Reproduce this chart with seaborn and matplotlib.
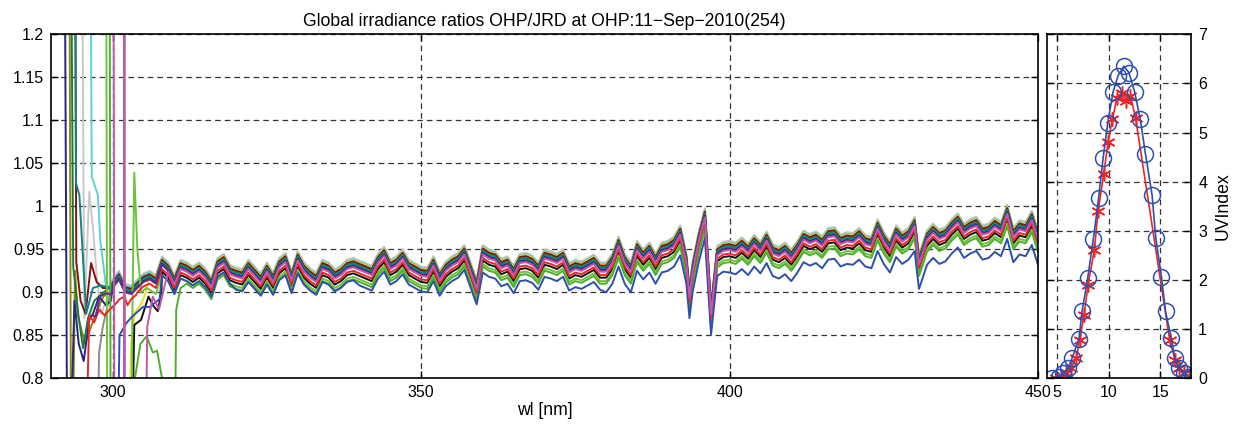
import numpy as np
import matplotlib
matplotlib.use("Agg")
import matplotlib.pyplot as plt
import seaborn as sns
import pandas as pd

# ---- spectral ratio: middle of the bundle ----
base_wl = [300, 301, 302, 303, 304, 305, 306, 307, 308, 309,
           310, 311, 312, 313, 314, 315, 316, 317, 318, 319,
           320, 321, 322, 323, 324, 325, 326, 327, 328, 329,
           330, 331, 332, 333, 334, 335, 336, 337, 338, 339,
           340, 341, 342, 343, 344, 345, 346, 347, 348, 349,
           350, 351, 352, 353, 354, 355, 356, 357, 358, 359,
           360, 361, 362, 363, 364, 365, 366, 367, 368, 369,
           370, 371, 372, 373, 374, 375, 376, 377, 378, 379,
           380, 381, 382, 383, 384, 385, 386, 387, 388, 389,
           390, 391, 392, 393, 393.5, 394, 395, 396, 397, 398, 399,
           400, 401, 402, 403, 404, 405, 406, 407, 408, 409,
           410, 411, 412, 413, 414, 415, 416, 417, 418, 419,
           420, 421, 422, 423, 424, 425, 426, 427, 428, 429,
           430, 430.7, 431, 432, 433, 434, 435, 436, 437, 438, 439,
           440, 441, 442, 443, 444, 445, 446, 447, 448, 449, 450]
base_ratio = [0.905, 0.915, 0.900, 0.898, 0.905, 0.912, 0.915, 0.910, 0.932, 0.925,
              0.910, 0.928, 0.925, 0.920, 0.925, 0.918, 0.907, 0.930, 0.935, 0.922,
              0.919, 0.917, 0.928, 0.920, 0.912, 0.925, 0.913, 0.930, 0.936, 0.915,
              0.938, 0.925, 0.918, 0.913, 0.928, 0.925, 0.917, 0.921, 0.928, 0.930,
              0.927, 0.924, 0.921, 0.935, 0.943, 0.928, 0.932, 0.940, 0.928, 0.924,
              0.920, 0.919, 0.932, 0.915, 0.926, 0.932, 0.936, 0.945, 0.925, 0.905,
              0.945, 0.940, 0.938, 0.929, 0.932, 0.921, 0.935, 0.936, 0.933, 0.925,
              0.940, 0.938, 0.935, 0.940, 0.924, 0.928, 0.926, 0.930, 0.934, 0.925,
              0.925, 0.935, 0.955, 0.935, 0.925, 0.950, 0.940, 0.948, 0.935, 0.948,
              0.950, 0.955, 0.968, 0.935, 0.895, 0.925, 0.960, 0.988, 0.876, 0.944, 0.949,
              0.950, 0.948, 0.954, 0.947, 0.957, 0.949, 0.961, 0.946, 0.943, 0.948,
              0.940, 0.950, 0.962, 0.958, 0.961, 0.955, 0.965, 0.966, 0.957, 0.960,
              0.959, 0.965, 0.957, 0.955, 0.975, 0.960, 0.950, 0.968, 0.960, 0.965,
              0.978, 0.934, 0.940, 0.962, 0.970, 0.963, 0.966, 0.975, 0.982, 0.970, 0.975,
              0.978, 0.968, 0.970, 0.977, 0.972, 0.992, 0.965, 0.974, 0.972, 0.985, 0.962]

# drawing order (last one on top)
scans = ["lgrey", "dgrey", "cyan", "yellow", "olive", "dred", "dgreen", "teal",
         "navy", "black", "greenA", "greenB", "blue", "red", "purple", "magenta"]
scan_colors = {"lgrey": "#c8c8c8", "dgrey": "#8c8c8c", "cyan": "#5fd0d8",
               "yellow": "#e8e020", "olive": "#8a8a10", "dred": "#861010",
               "dgreen": "#1f7a3a", "teal": "#108585", "navy": "#26267e",
               "black": "#111111", "greenA": "#6cc23a", "greenB": "#4fae2c",
               "blue": "#2d4fae", "red": "#f02424", "purple": "#6a2a8a",
               "magenta": "#c058ac"}
scan_offset = {"lgrey": 0.010, "dgrey": 0.008, "cyan": 0.008, "yellow": 0.007,
               "olive": 0.005, "dred": 0.006, "dgreen": 0.004, "teal": 0.003,
               "navy": 0.001, "black": -0.008, "greenA": -0.012, "greenB": -0.015,
               "blue": 0.0, "red": -0.005, "purple": 0.0, "magenta": -0.001}
# the blue scan drifts lower toward long wavelengths
blue_band_start = [300, 320, 340, 360, 380, 400, 430]
blue_band_offset = [-0.012, -0.016, -0.019, -0.022, -0.025, -0.027, -0.030]

# noisy short-wavelength starts (values beyond 0.8..1.2 run off the axes)
head_wl = {
    "navy": [292.1, 292.7, 293.8, 294.5, 295.3, 296.2, 296.8, 297.8, 298.9, 299.7],
    "olive": [292.9, 293.3, 293.9, 294.3, 295.5, 296.5, 297.5, 298.5, 299.5],
    "dgreen": [293.1, 293.6, 294.5, 295.2, 296.0, 297.0, 298.5, 299.5],
    "dred": [293.8, 294.1, 294.8, 295.6, 296.5, 297.4, 298.4, 299.5],
    "teal": [293.9, 294.05, 294.6, 295.7, 296.8, 298.1, 299.2],
    "lgrey": [294.9, 295.4, 296.2, 296.8, 297.4, 298.1, 299.0, 299.7],
    "cyan": [296.3, 296.6, 297.6, 298.0, 298.9, 299.6],
    "dgrey": [297.2, 297.8, 298.4, 299.5],
    "purple": [296.5, 297.3, 297.9, 299.0, 299.8],
    "red": [295.3, 296.2, 297.0, 297.8, 298.7, 299.5, 300.3, 301.1, 301.9, 302.4, 303.0, 303.8],
    "greenA": [298.9, 299.15, 302.9, 303.2, 303.5, 304.0, 304.6, 305.5],
    "greenB": [299.45, 299.7, 302.8, 303.6, 304.5, 305.5, 306.5, 307.2, 308.0, 308.3, 309.9, 310.3, 311.0],
    "magenta": [300.1, 300.3, 301.8, 301.9, 302.0, 305.2, 305.6, 306.5, 307.5, 308.5],
    "yellow": [302.2, 303.0, 303.6, 304.5, 305.4],
    "black": [302.8, 303.5, 304.6, 305.8, 306.5, 307.3, 307.9],
    "blue": [300.6, 301.1, 302.2, 303.2, 304.9, 306.0, 307.6],
}
head_val = {
    "navy": [1.5, 0.6, 0.89, 0.84, 0.82, 0.868, 0.875, 0.895, 0.885, 0.89],
    "olive": [1.5, 0.6, 0.925, 0.875, 0.84, 0.86, 0.88, 0.895, 0.90],
    "dgreen": [1.5, 0.93, 0.87, 0.835, 0.87, 0.89, 0.90, 0.905],
    "dred": [1.5, 0.935, 0.89, 0.875, 0.934, 0.912, 0.905, 0.905],
    "teal": [1.5, 1.027, 1.013, 0.875, 0.905, 0.908, 0.906],
    "lgrey": [1.5, 0.87, 1.017, 0.975, 0.92, 0.875, 0.89, 0.905],
    "cyan": [1.5, 1.035, 1.013, 0.96, 0.908, 0.905],
    "dgrey": [0.6, 0.83, 0.86, 0.895],
    "purple": [0.873, 0.872, 0.895, 0.899, 0.897],
    "red": [0.6, 0.873, 0.865, 0.88, 0.873, 0.88, 0.885, 0.892, 0.895, 0.885, 0.892, 0.897],
    "greenA": [1.5, 0.6, 0.6, 0.88, 1.039, 0.95, 0.90, 0.905],
    "greenB": [1.5, 0.6, 0.6, 0.8, 0.84, 0.849, 0.83, 0.832, 0.80, 0.6, 0.6, 0.88, 0.905],
    "magenta": [1.5, 0.6, 0.6, 1.5, 0.6, 0.6, 0.86, 0.895, 0.88, 0.91],
    "yellow": [0.6, 0.84, 0.877, 0.885, 0.90],
    "black": [0.6, 0.862, 0.868, 0.895, 0.885, 0.878, 0.90],
    "blue": [0.6, 0.85, 0.864, 0.872, 0.883, 0.883, 0.892],
}

# ---- UV index through the day ----
uv_hour_meas = [4.45, 5.2, 5.55, 6.05, 6.45, 7.1, 7.4, 7.95, 8.5, 9.0, 9.45, 9.9,
                10.4, 10.9, 11.45, 11.95, 12.5, 13.05, 13.55, 14.2, 14.55, 15.1,
                15.5, 16.05, 16.4, 16.8, 17.25, 17.75, 18.05]
uv_meas = [0.0, 0.03, 0.1, 0.2, 0.42, 0.8, 1.36, 2.04, 2.84, 3.66, 4.49, 5.2,
           5.82, 6.16, 6.35, 6.22, 5.83, 5.27, 4.57, 3.72, 2.86, 2.07,
           1.36, 0.82, 0.41, 0.2, 0.1, 0.03, 0.0]
uv_hour_ref = [4.9, 5.35, 5.85, 6.3, 6.85, 7.17, 7.6, 7.98, 8.6, 8.95, 9.5, 9.92,
               10.34, 10.8, 11.3, 11.7, 12.09, 12.6, 15.9, 16.45, 16.85, 17.3, 17.75]
uv_ref = [0.0, 0.03, 0.1, 0.2, 0.41, 0.78, 1.29, 1.9, 2.62, 3.4, 4.15, 4.8,
          5.27, 5.71, 5.8, 5.65, 5.75, 5.29, 0.78, 0.37, 0.2, 0.1, 0.03]

yticks_left = [0.8, 0.85, 0.9, 0.95, 1.0, 1.05, 1.1, 1.15, 1.2]
yticklabels_left = ["0.8", "0.85", "0.9", "0.95", "1", "1.05", "1.1", "1.15", "1.2"]
xticks_left = [300, 350, 400, 450]

# build the long table of scans
rows = []
for s in scans:
    if s in head_wl:
        hw, hv = head_wl[s], head_val[s]
        last = hw[-1]
    else:
        hw, hv, last = [], [], -1
    for w, v in zip(hw, hv):
        rows.append((s, w, v))
    for w, b in zip(base_wl, base_ratio):
        if w <= last:
            continue
        if s == "blue":
            off = blue_band_offset[np.searchsorted(blue_band_start, w, side="right") - 1]
        else:
            off = scan_offset[s]
        rows.append((s, w, b + off))
spec = pd.DataFrame(rows, columns=["scan", "wl", "ratio"])

sns.set_style("white")
plt.rcParams["font.family"] = ["Liberation Sans", "DejaVu Sans"]
plt.rcParams["font.size"] = 11.5
for k in ("text.color", "axes.labelcolor", "xtick.color", "ytick.color"):
    plt.rcParams[k] = "black"

fig = plt.figure(figsize=(12.45, 4.34), dpi=100)
ax1 = fig.add_axes([51 / 1245, 55.7 / 434, 987 / 1245, 344 / 434])
ax2 = fig.add_axes([1047 / 1245, 55.7 / 434, 144.3 / 1245, 344 / 434])

grid_kw = dict(color="0.2", linestyle=(0, (4.5, 3.2)), linewidth=0.9)

sns.lineplot(data=spec, x="wl", y="ratio", hue="scan", hue_order=scans,
             palette=scan_colors, estimator=None, sort=False, legend=False,
             linewidth=1.4, ax=ax1)
ax1.set_xlim(290, 450)
ax1.set_ylim(0.8, 1.2)
ax1.set_xticks(xticks_left)
ax1.set_yticks(yticks_left)
ax1.set_yticklabels(yticklabels_left)
ax1.grid(True, **grid_kw)
ax1.set_axisbelow(True)
ax1.set_xlabel("wl [nm]", fontsize=12.7, labelpad=1)
ax1.set_ylabel("")
ax1.set_title("Global irradiance ratios OHP/JRD at OHP:11\u2212Sep\u22122010(254)",
              fontsize=12.7, pad=6)

red_c = "#f02424"
blue_c = "#2d4fae"
sns.lineplot(x=uv_hour_ref, y=uv_ref, ax=ax2, color=red_c, linewidth=1.2,
             marker=(6, 2, 0), markersize=10, mec=red_c, mew=1.1,
             estimator=None, sort=False)
sns.lineplot(x=uv_hour_meas, y=uv_meas, ax=ax2, color=blue_c, linewidth=1.2,
             marker="o", markersize=11.5, mfc="none", mec=blue_c, mew=1.1,
             estimator=None, sort=False)
ax2.set_xlim(4, 18)
ax2.set_ylim(0, 7)
ax2.set_xticks([5, 10, 15])
ax2.set_yticks(range(0, 8))
ax2.grid(True, **grid_kw)
ax2.yaxis.set_label_position("right")
ax2.set_ylabel("UVIndex", fontsize=12.7, labelpad=5)
ax2.set_xlabel("")

for ax in (ax1, ax2):
    for sp in ax.spines.values():
        sp.set_visible(True)
        sp.set_color("black")
        sp.set_linewidth(1.2)
    ax.tick_params(direction="in", length=5, width=1, top=True, right=True,
                   left=True, bottom=True, labelsize=11.5, pad=5)
ax2.tick_params(labelleft=False, labelright=True)

fig.savefig("out.png", dpi=100)
